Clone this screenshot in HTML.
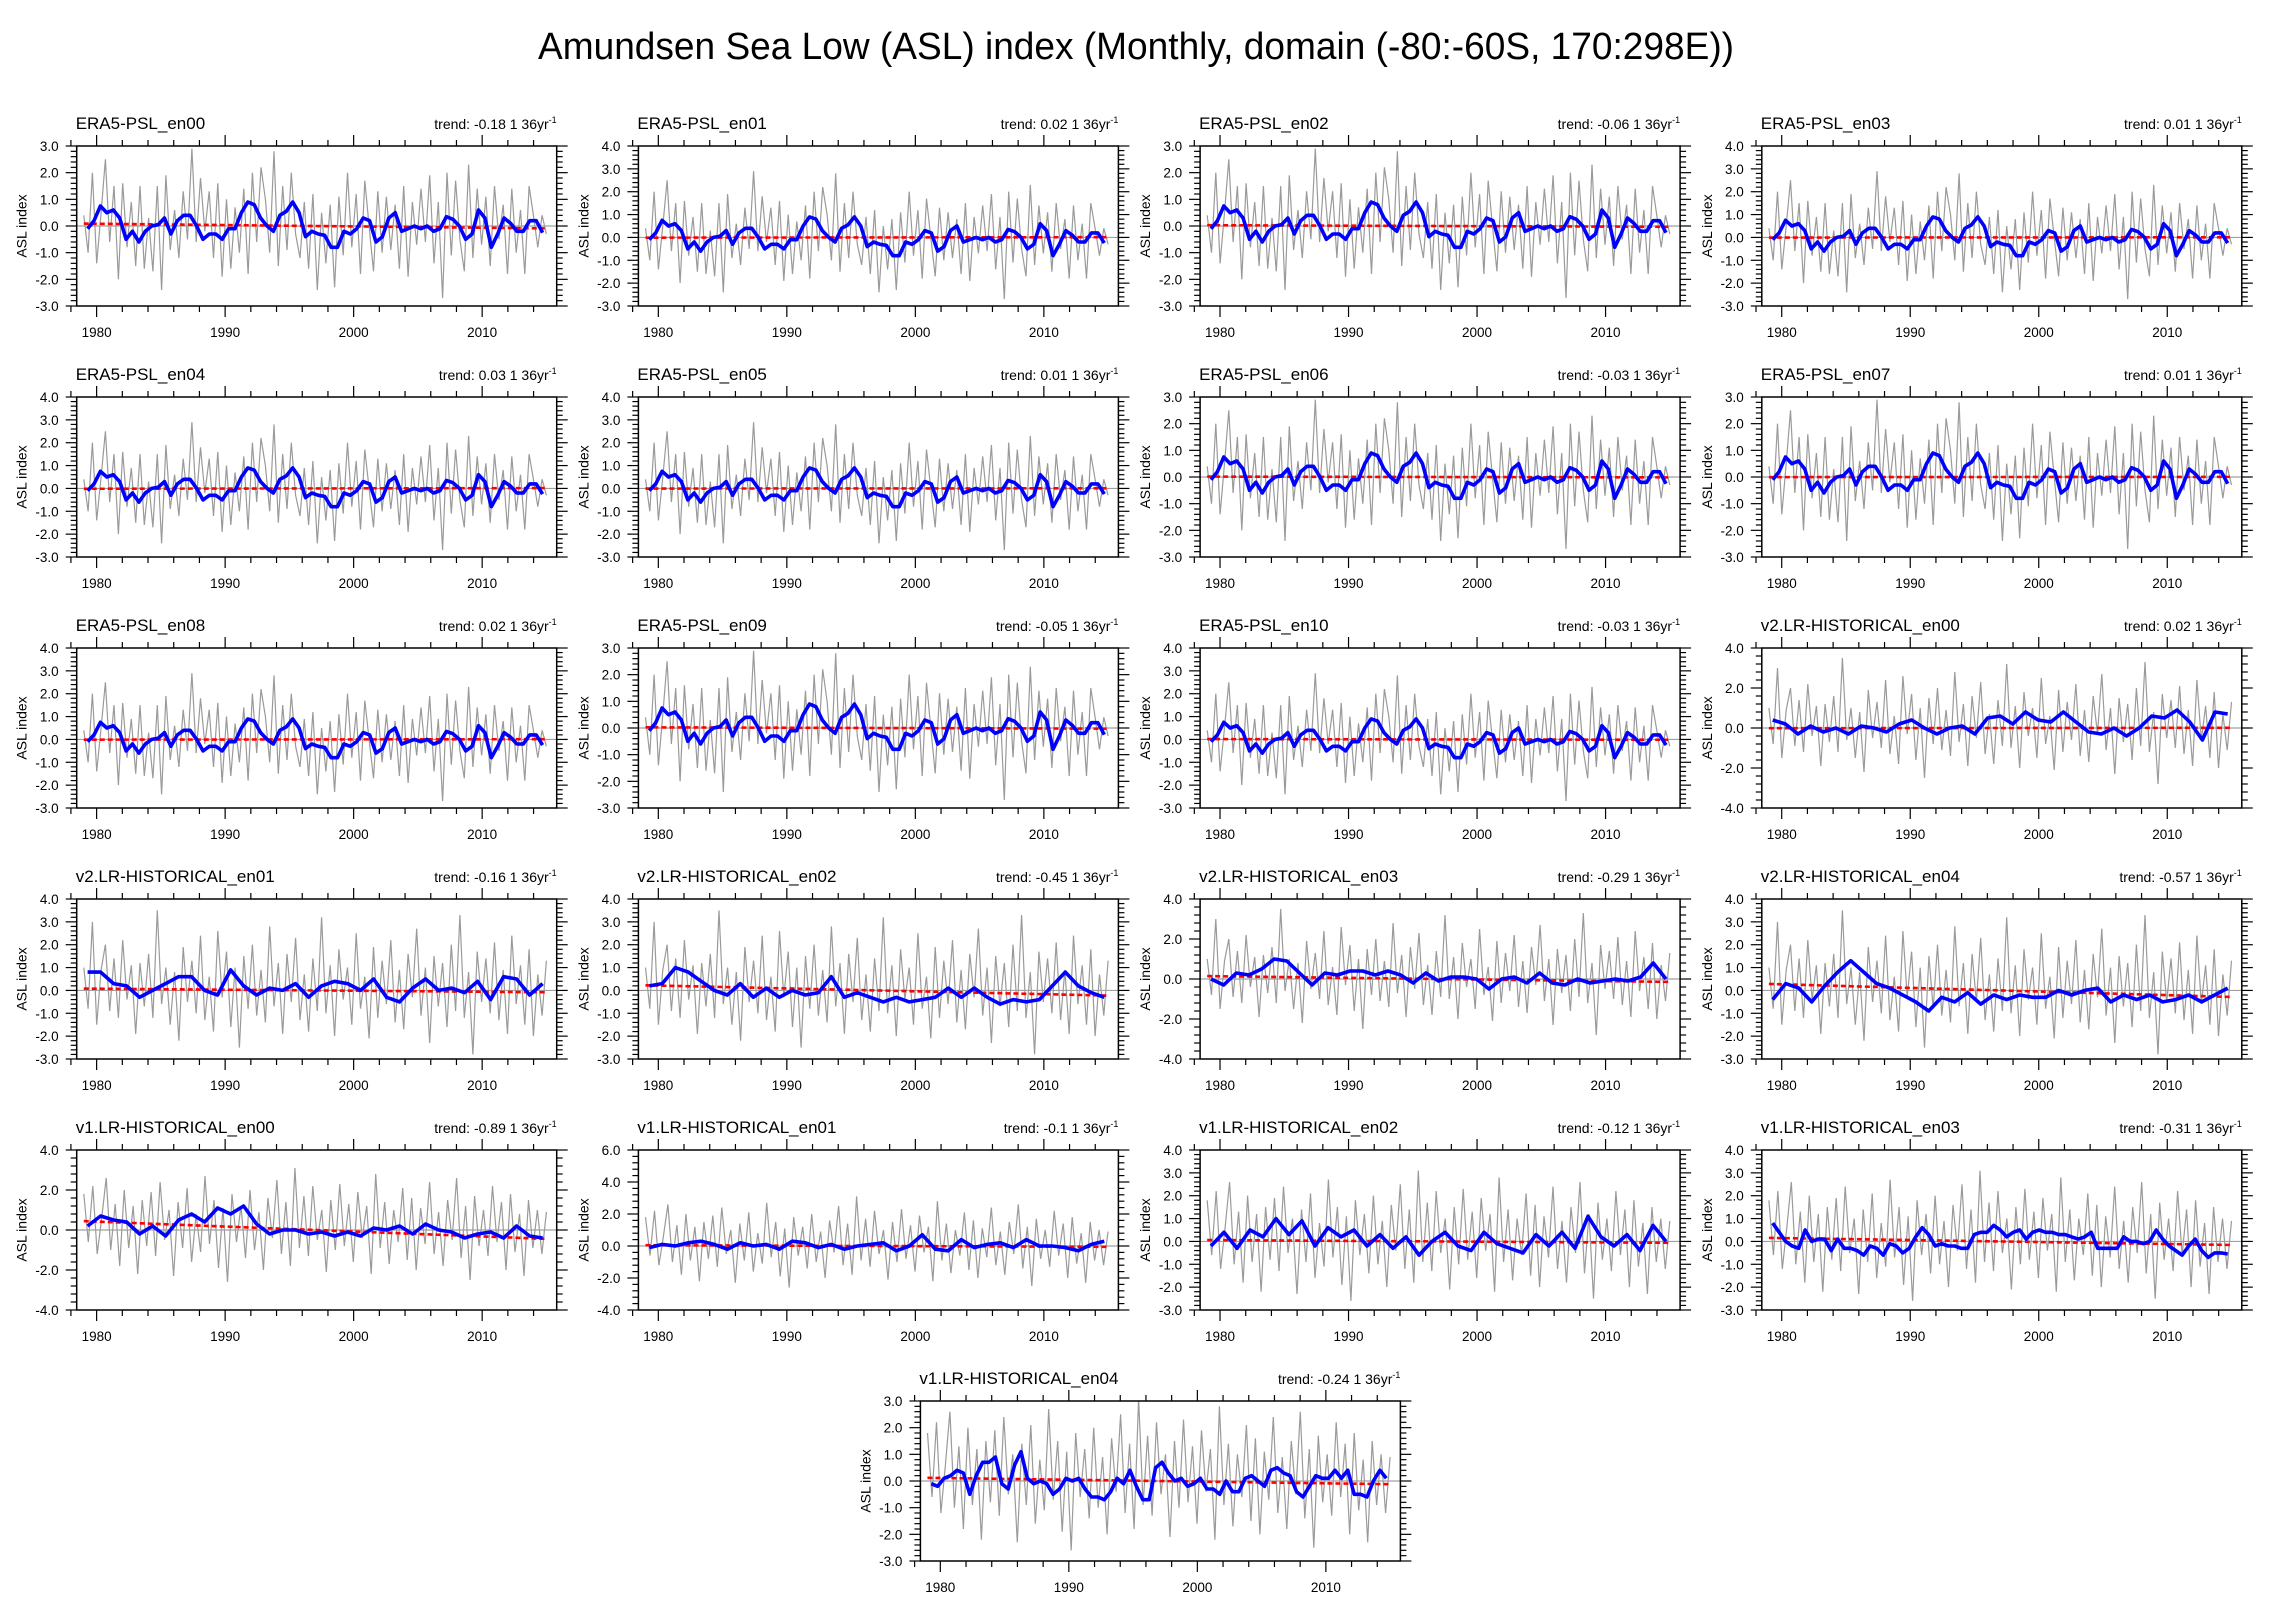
<!DOCTYPE html>
<html><head><meta charset="utf-8"><style>
html,body{margin:0;padding:0;background:#fff;}
svg{display:block;font-family:"Liberation Sans",sans-serif;}
</style></head><body>
<svg id="fig" width="2270" height="1616" viewBox="0 0 2270 1616" xmlns="http://www.w3.org/2000/svg">
<rect width="2270" height="1616" fill="#fff"/>
<text x="1136" y="59" text-anchor="middle" font-size="38" textLength="1196" lengthAdjust="spacingAndGlyphs">Amundsen Sea Low (ASL) index (Monthly, domain (-80:-60S, 170:298E))</text>
</svg>
<script>
// ---------- data ----------
const panelNames=["ERA5-PSL_en00","ERA5-PSL_en01","ERA5-PSL_en02","ERA5-PSL_en03","ERA5-PSL_en04","ERA5-PSL_en05","ERA5-PSL_en06","ERA5-PSL_en07","ERA5-PSL_en08","ERA5-PSL_en09","ERA5-PSL_en10","v2.LR-HISTORICAL_en00","v2.LR-HISTORICAL_en01","v2.LR-HISTORICAL_en02","v2.LR-HISTORICAL_en03","v2.LR-HISTORICAL_en04","v1.LR-HISTORICAL_en00","v1.LR-HISTORICAL_en01","v1.LR-HISTORICAL_en02","v1.LR-HISTORICAL_en03","v1.LR-HISTORICAL_en04"];
const trendLabels=["-0.18","0.02","-0.06","0.01","0.03","0.01","-0.03","0.01","0.02","-0.05","-0.03","0.02","-0.16","-0.45","-0.29","-0.57","-0.89","-0.1","-0.12","-0.31","-0.24"];
const trends=[-0.18,0.02,-0.06,0.01,0.03,0.01,-0.03,0.01,0.02,-0.05,-0.03,0.02,-0.16,-0.45,-0.29,-0.57,-0.89,-0.1,-0.12,-0.31,-0.24];
const yMins=[-3,-3,-3,-3,-3,-3,-3,-3,-3,-3,-3,-4,-3,-3,-4,-3,-4,-4,-3,-3,-3];
const yMaxs=[3,4,3,4,4,4,3,3,4,3,4,4,4,4,4,4,4,6,4,4,3];
const ySteps=[1,1,1,1,1,1,1,1,1,1,1,2,1,1,2,1,2,2,1,1,1];
const xTickYears=[1980,1990,2000,2010];

const era5Smooth=[-0.1,0.2,0.75,0.5,0.6,0.3,-0.5,-0.2,-0.6,-0.2,0.0,0.05,0.3,-0.3,0.2,0.4,0.4,0.0,-0.5,-0.3,-0.3,-0.5,-0.1,-0.1,0.5,0.9,0.8,0.3,0.0,-0.2,0.4,0.55,0.9,0.5,-0.4,-0.2,-0.3,-0.35,-0.8,-0.8,-0.2,-0.3,-0.1,0.3,0.2,-0.6,-0.4,0.3,0.5,-0.2,-0.1,0.0,-0.1,0.0,-0.2,-0.1,0.35,0.25,0.0,-0.5,-0.3,0.6,0.3,-0.8,-0.3,0.3,0.1,-0.2,-0.2,0.2,0.2,-0.25];
const v2en00Smooth=[0.4,0.2,-0.3,0.1,-0.2,0.0,-0.3,0.1,0.0,-0.2,0.2,0.4,0.0,-0.3,0.0,0.1,-0.3,0.5,0.6,0.2,0.8,0.4,0.3,0.8,0.3,-0.2,-0.3,0.0,-0.4,0.0,0.6,0.5,0.9,0.3,-0.6,0.8,0.7];
const v2en01Smooth=[0.8,0.8,0.3,0.2,-0.3,0.0,0.3,0.6,0.6,0.0,-0.2,0.9,0.2,-0.2,0.1,0.0,0.3,-0.3,0.2,0.4,0.3,0.0,0.5,-0.3,-0.5,0.1,0.5,0.0,0.1,-0.1,0.4,-0.4,0.6,0.5,-0.2,0.3];
const v2en02Smooth=[0.2,0.3,1.0,0.8,0.4,0.0,-0.2,0.3,-0.3,0.1,-0.3,0.0,-0.2,-0.1,0.6,-0.3,-0.1,-0.3,-0.5,-0.3,-0.5,-0.4,-0.3,0.1,-0.3,0.1,-0.3,-0.6,-0.4,-0.5,-0.4,0.2,0.8,0.2,-0.1,-0.3];
const v2en03Smooth=[0.0,-0.3,0.3,0.2,0.5,1.0,0.9,0.3,-0.3,0.3,0.2,0.4,0.4,0.2,0.4,0.2,-0.2,0.3,-0.1,0.1,0.1,0.0,-0.5,0.0,0.1,-0.2,0.3,-0.2,-0.3,0.0,-0.2,-0.1,0.0,-0.1,0.1,0.8,0.0];
const v2en04Smooth=[-0.4,0.3,0.1,-0.5,0.2,0.8,1.3,0.8,0.3,0.1,-0.2,-0.5,-0.9,-0.3,-0.5,-0.1,-0.6,-0.2,-0.4,-0.2,-0.3,-0.3,0.0,-0.2,0.0,0.1,-0.5,-0.2,-0.4,-0.2,-0.5,-0.4,-0.2,-0.5,-0.2,0.1];
const v1en00Smooth=[0.2,0.7,0.5,0.4,-0.2,0.2,-0.3,0.5,0.8,0.4,1.1,0.8,1.2,0.3,-0.2,0.0,0.0,-0.2,-0.1,-0.3,-0.1,-0.3,0.1,0.0,0.2,-0.2,0.3,0.0,-0.1,-0.4,-0.2,-0.1,-0.4,0.2,-0.3,-0.4];
const v1en01Smooth=[-0.1,0.1,0.0,0.2,0.3,0.1,-0.2,0.2,0.0,0.1,-0.2,0.3,0.2,-0.1,0.1,-0.2,0.0,0.1,0.2,-0.3,0.0,0.7,-0.2,-0.3,0.4,-0.1,0.1,0.2,-0.1,0.4,0.0,0.0,-0.1,-0.3,0.1,0.3];
const v1en02Smooth=[-0.2,0.4,-0.3,0.5,0.2,1.0,0.3,0.9,-0.2,0.6,0.2,0.5,-0.2,0.3,-0.3,0.2,-0.6,0.0,0.4,-0.2,-0.4,0.4,-0.1,-0.3,-0.5,0.3,-0.2,0.4,-0.3,1.1,0.2,-0.2,0.3,-0.4,0.7,0.0];
const v1en03Smooth=[0.8,0.4,0.0,-0.2,-0.3,0.5,0.0,0.1,0.1,-0.4,0.1,-0.3,-0.3,-0.4,-0.6,-0.2,-0.3,-0.6,-0.1,-0.2,-0.5,-0.3,0.2,0.6,0.3,-0.2,-0.1,-0.2,-0.2,-0.3,-0.3,0.3,0.4,0.4,0.7,0.5,0.2,0.4,0.5,0.1,0.4,0.5,0.4,0.4,0.3,0.3,0.2,0.1,0.2,0.4,-0.3,-0.3,-0.3,-0.3,0.2,0.0,0.0,-0.1,0.0,0.5,0.1,-0.2,-0.4,-0.6,-0.2,0.1,-0.4,-0.7,-0.5,-0.5,-0.55];
const v1en04Smooth=[-0.1,-0.2,0.1,0.2,0.4,0.3,-0.5,0.2,0.7,0.7,0.9,-0.1,-0.3,0.6,1.1,0.1,-0.1,0.0,-0.1,-0.5,-0.3,0.1,0.0,0.1,-0.3,-0.6,-0.6,-0.7,-0.4,0.1,-0.1,0.4,-0.2,-0.7,-0.7,0.5,0.7,0.3,0.0,0.1,-0.2,-0.1,0.1,-0.3,-0.3,-0.5,0.0,-0.4,-0.4,0.1,0.2,0.0,-0.2,0.4,0.5,0.3,0.2,-0.4,-0.6,-0.2,0.2,0.1,0.1,0.4,0.1,0.4,-0.5,-0.5,-0.6,0.0,0.4,0.1];

const greyA=[0.4,-1.0,2.0,-1.4,0.5,2.5,-0.6,1.5,-2.0,1.6,-0.8,0.9,-1.5,1.5,-1.6,0.3,-1.7,1.5,-2.4,1.9,-0.9,0.6,-1.2,1.3,-0.5,2.9,-0.6,1.8,-0.2,1.3,-1.2,1.6,-1.9,1.0,-1.6,0.7,-1.0,1.4,-1.8,2.0,-0.6,2.2,1.0,-1.0,2.8,-1.5,1.5,-0.9,2.0,-0.3,-1.2,0.9,-1.6,1.2,-2.4,0.5,-1.4,0.8,-2.3,1.1,-1.1,2.0,-0.8,1.2,-1.8,1.7,0.0,-1.7,1.3,-1.0,1.1,-0.9,0.8,-1.6,1.5,-1.9,0.9,-0.7,1.4,-0.6,1.9,-1.4,0.9,-2.7,2.0,-1.1,1.7,-0.5,-1.7,2.3,-1.2,1.4,-0.7,1.1,-1.5,1.5,-0.5,0.8,-1.8,1.4,-1.0,0.6,-1.8,1.5,0.4,-0.8,0.4,-0.3];
const greyB=[1.0,-0.8,3.0,-1.5,0.9,2.0,-0.9,1.4,-1.2,2.2,-0.4,1.1,-1.9,1.2,-0.7,1.6,-1.2,3.5,-0.6,1.0,-1.5,0.8,-2.2,1.9,-0.5,1.3,-1.0,2.4,-1.3,0.6,-1.8,2.6,-0.3,1.7,-1.6,1.0,-2.5,1.5,-0.8,2.0,-1.1,0.9,-1.4,2.8,-0.7,1.2,-1.9,1.6,-0.5,2.3,-1.3,0.7,-1.8,1.4,-0.9,3.2,-1.0,1.1,-2.0,1.8,-0.4,1.0,-1.5,2.5,-0.8,0.6,-2.1,1.9,-1.2,1.3,-0.6,2.2,-1.4,0.9,-1.7,1.6,-0.3,2.7,-1.1,1.0,-2.3,1.5,-0.7,1.2,-1.6,2.0,-0.9,3.3,-1.2,0.8,-2.8,1.7,-0.5,1.4,-1.0,2.1,-1.3,0.9,-1.9,2.4,-0.6,1.1,-1.5,1.8,-2.0,0.7,-1.1,1.3];
const greyC=[1.8,-0.6,2.2,-1.2,0.6,2.6,-1.0,1.3,-1.8,2.0,-0.9,1.2,-2.2,1.5,-0.8,1.9,-1.3,2.4,-0.5,1.0,-2.3,1.4,-0.9,2.1,-1.6,0.8,-1.1,2.7,-0.7,1.5,-1.9,1.1,-2.6,1.8,-0.6,1.2,-1.4,2.0,-1.0,0.9,-2.0,1.6,-0.4,2.5,-1.2,1.4,-1.8,3.1,-0.9,1.7,-1.3,2.2,-0.5,1.0,-2.1,1.5,-1.0,2.3,-0.8,1.3,-1.6,1.9,-0.4,1.2,-2.2,2.8,-0.9,1.4,-1.7,1.0,-0.6,2.1,-1.5,1.6,-2.0,1.1,-0.7,2.4,-1.2,0.9,-1.8,1.5,-0.5,2.6,-1.4,1.2,-2.5,1.7,-0.8,1.0,-1.3,2.2,-0.6,1.4,-2.0,1.8,-1.1,0.8,-2.3,1.5,-0.9,1.0,-1.2,0.9];

const smoothSeries=[era5Smooth,era5Smooth,era5Smooth,era5Smooth,era5Smooth,era5Smooth,era5Smooth,era5Smooth,era5Smooth,era5Smooth,era5Smooth,v2en00Smooth,v2en01Smooth,v2en02Smooth,v2en03Smooth,v2en04Smooth,v1en00Smooth,v1en01Smooth,v1en02Smooth,v1en03Smooth,v1en04Smooth];
const greySeries=[greyA,greyA,greyA,greyA,greyA,greyA,greyA,greyA,greyA,greyA,greyA,greyB,greyB,greyB,greyB,greyB,greyC,greyC,greyC,greyC,greyC];

// ---------- layout ----------
const NS="http://www.w3.org/2000/svg";
const svg=document.getElementById('fig');
const W=480,H=160,xMin=1978.45,xMax=2015.8;
function mk(tag,attrs,parent){const e=document.createElementNS(NS,tag);for(const k in attrs)e.setAttribute(k,attrs[k]);(parent||svg).appendChild(e);return e;}
function panelPos(i){
  if(i===20) return [920.4,1401];
  const c=i%4,r=Math.floor(i/4);
  return [76.7+561.7*c,146+251*r];
}
function path(xs,ys){let d="";for(let k=0;k<xs.length;k++)d+=(k?"L":"M")+xs[k].toFixed(1)+" "+ys[k].toFixed(1);return d;}

panelNames.forEach((name,i)=>{
  const [L,T]=panelPos(i);
  const y0=yMins[i],y1=yMaxs[i],st=ySteps[i];
  const sx=v=>L+(v-xMin)/(xMax-xMin)*W;
  const sy=v=>T+H-(v-y0)/(y1-y0)*H;
  const g=mk('g',{});
  
  
  const cid='clip'+i;
  const cp=mk('clipPath',{id:cid},g);mk('rect',{x:L,y:T,width:W,height:H},cp);
  const plot=mk('g',{'clip-path':'url(#'+cid+')'},g);
  const gr=greySeries[i];
  const gx=gr.map((v,k)=>sx(1979+k*36/(gr.length-1)));
  const gl=mk('path',{d:path(gx,gr.map(sy)),fill:'none',stroke:'#9a9a9a','stroke-width':1.2},plot);
  
  
  const zl=mk('line',{x1:L,x2:L+W,y1:sy(0),y2:sy(0),stroke:'#a0a0a0','stroke-width':1.2},plot);
  
  
  const tr=trends[i];
  const tl=mk('line',{x1:sx(1979),x2:sx(2015),y1:sy(-tr/2),y2:sy(tr/2),stroke:'#ff0000','stroke-width':2.6,'stroke-dasharray':'5 3'},plot);
  
  
  const sm=smoothSeries[i];
  const bx=sm.map((v,k)=>sx(1979.3+k*35.4/(sm.length-1)));
  const bl=mk('path',{d:path(bx,sm.map(sy)),fill:'none',stroke:'#0000ff','stroke-width':3.6,'stroke-linejoin':'round'},plot);
  
  
  mk('rect',{x:L,y:T,width:W,height:H,fill:'none',stroke:'#000','stroke-width':1.5},g);
  const minorY=st/5;
  for(let v=y0;v<=y1+1e-6;v+=minorY){
    const isMaj=Math.abs(v/st-Math.round(v/st))<1e-6;
    const len=isMaj?11:6,yy=sy(v);
    mk('line',{x1:L-len,x2:L,y1:yy,y2:yy,stroke:'#000','stroke-width':1.2},g);
    mk('line',{x1:L+W,x2:L+W+len,y1:yy,y2:yy,stroke:'#000','stroke-width':1.2},g);
  }
  for(let v=y0;v<=y1+1e-6;v+=st){
    const t=mk('text',{x:L-18,y:sy(v)+5,'text-anchor':'end','font-size':13.5},g);
    t.textContent=v.toFixed(1);
    
    
  }
  for(let yr=1978;yr<=2014;yr+=2){
    const isMaj=xTickYears.includes(yr);
    const len=isMaj?11:6,xx=sx(yr);
    mk('line',{x1:xx,x2:xx,y1:T-len,y2:T,stroke:'#000','stroke-width':1.2},g);
    mk('line',{x1:xx,x2:xx,y1:T+H,y2:T+H+len,stroke:'#000','stroke-width':1.2},g);
  }
  xTickYears.forEach(yr=>{
    const t=mk('text',{x:sx(yr),y:T+H+31,'text-anchor':'middle','font-size':13.5},g);
    t.textContent=yr;
    
    
  });
  const yt=mk('text',{x:0,y:0,'text-anchor':'middle','font-size':14,transform:'translate('+(L-50)+','+(T+H/2)+') rotate(-90)'},g);
  yt.textContent='ASL index';
  
  
  const pt=mk('text',{x:L-1,y:T-17,'font-size':17},g);
  pt.textContent=name;
  
  
  const tt=mk('text',{x:L+W,y:T-17,'text-anchor':'end','font-size':14},g);
  
  
  tt.textContent='trend: '+trendLabels[i]+' 1 36yr';
  const sup=mk('tspan',{dy:-6,'font-size':9},tt);sup.textContent='-1';
});
</script>
</body></html>
